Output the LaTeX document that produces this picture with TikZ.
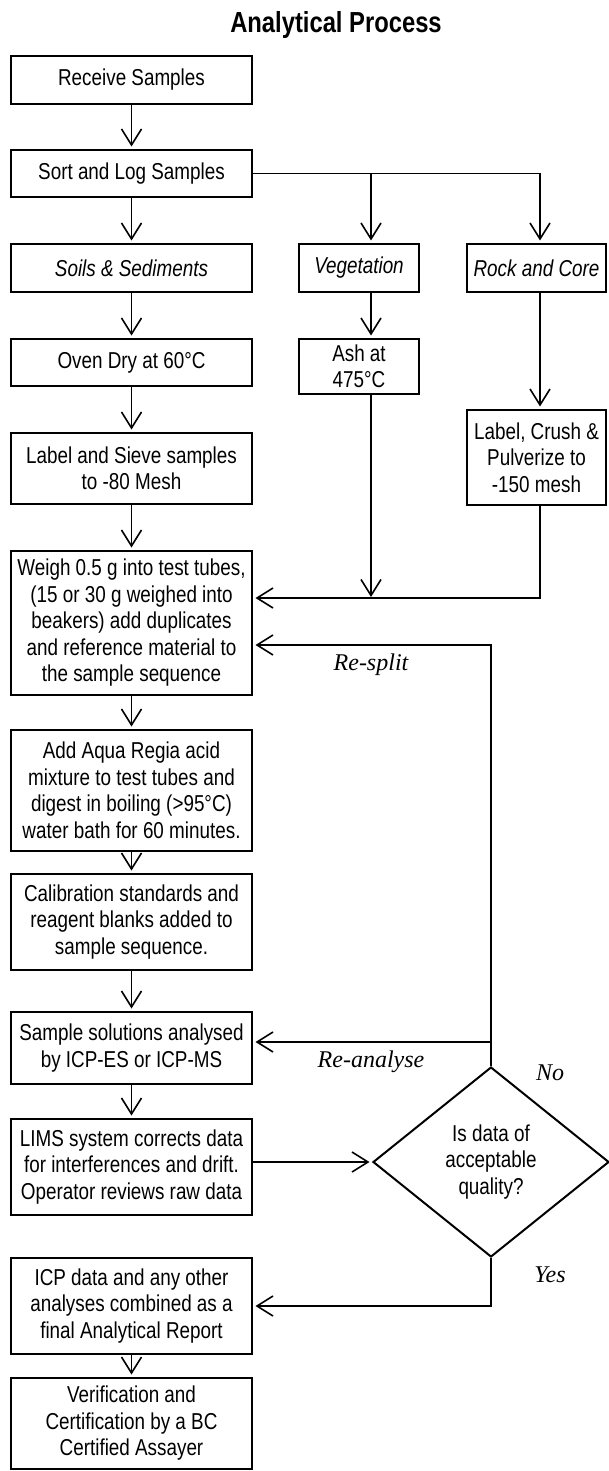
\documentclass[tikz,border=0pt]{standalone}
\usepackage{fontspec}
\setmainfont{Liberation Sans}[FakeStretch=0.82]
\newfontfamily\timesfam{Liberation Serif}
\usetikzlibrary{arrows.meta,shapes.geometric}
\begin{document}
\begin{tikzpicture}[x=1pt,y=-1pt,
  box/.style={draw, line width=2pt, align=center, inner sep=0pt,
    font=\fontsize{23}{26.5}\selectfont},
  lb/.style={box, minimum width=241pt},
  conn/.style={line width=1.6pt},
  arr/.style={conn, -{Straight Barb[length=16pt,width=20pt]}, shorten >=2.5pt},
  lbl/.style={font=\timesfam\itshape\fontsize{24}{28}\selectfont, anchor=base},
  dia/.style={draw, diamond, line width=2pt, inner sep=0pt, align=center,
    minimum width=236pt, minimum height=190pt, aspect=1.242,
    font=\fontsize{23}{26.5}\selectfont}
]
\useasboundingbox (0,0) rectangle (608,1471);

\node[font=\bfseries\fontsize{29}{34}\selectfont, anchor=base] (title) at (336,33) {Analytical Process};

% left column
\node[lb, minimum height=48pt] (rec) at (131.5,80) {Receive Samples};
\node[lb, minimum height=47pt] (sort) at (131.5,173.5) {Sort and Log Samples};
\node[lb, minimum height=48pt] (soils) at (131.5,268) {\itshape Soils \& Sediments};
\node[lb, minimum height=47pt] (oven) at (131.5,362.5) {Oven Dry at 60°C};
\node[lb, minimum height=71pt] (sieve) at (131.5,468.5) {Label and Sieve samples\\to -80 Mesh};
\node[lb, minimum height=144pt] (weigh) at (131.5,623) {Weigh 0.5 g into test tubes,\\(15 or 30 g weighed into\\beakers) add duplicates\\and reference material to\\the sample sequence};
\node[lb, minimum height=121pt] (aqua) at (131.5,790.5) {Add Aqua Regia acid\\mixture to test tubes and\\digest in boiling (>95°C)\\water bath for 60 minutes.};
\node[lb, minimum height=96pt] (calib) at (131.5,922) {Calibration standards and\\reagent blanks added to\\sample sequence.};
\node[lb, minimum height=72pt] (sample) at (131.5,1048) {Sample solutions analysed\\by ICP-ES or ICP-MS};
\node[lb, minimum height=96pt] (lims) at (131.5,1167) {LIMS system corrects data\\for interferences and drift.\\Operator reviews raw data};
\node[lb, minimum height=96pt] (icp) at (131.5,1306) {ICP data and any other\\analyses combined as a\\final Analytical Report};
\node[lb, minimum height=91pt] (verif) at (131.5,1423.5) {Verification and\\Certification by a BC\\Certified Assayer};

% middle and right columns
\node[box, minimum width=120pt, minimum height=48pt] (veg) at (359,268) {\itshape Vegetation};
\node[box, minimum width=120pt, minimum height=55pt] (ash) at (359,366.5) {Ash at\\475°C};
\node[box, minimum width=139pt, minimum height=48pt] (rock) at (536.5,268) {\itshape Rock and Core};
\node[box, minimum width=139pt, minimum height=95pt] (crush) at (536.5,457.5) {Label, Crush \&\\Pulverize to\\-150 mesh};

% decision
\node[dia] (dec) at (491,1162) {Is data of\\acceptable\\quality?};

% left column arrows
\draw[arr] (rec.south) -- (sort.north);
\draw[arr] (sort.south) -- (soils.north);
\draw[arr] (soils.south) -- (oven.north);
\draw[arr] (oven.south) -- (sieve.north);
\draw[arr] (sieve.south) -- (weigh.north);
\draw[arr] (weigh.south) -- (aqua.north);
\draw[arr] (aqua.south) -- (calib.north);
\draw[arr] (calib.south) -- (sample.north);
\draw[arr] (sample.south) -- (lims.north);
\draw[arr] (icp.south) -- (verif.north);

% branches
\coordinate (jv) at (371,173.5);
\coordinate (jr) at (540,173.5);
\coordinate (m) at (540,598);
\draw[conn] (sort.east) -- (jr);
\draw[arr] (jr) -- (jr |- rock.north);
\draw[arr] (jv) -- (jv |- veg.north);
\draw[arr] (jv |- veg.south) -- (jv |- ash.north);
\draw[arr] (jr |- rock.south) -- (jr |- crush.north);
\draw[arr] (jr |- crush.south) -- (m) -- (m -| weigh.east);
\draw[arr, shorten >=1pt] (jv |- ash.south) -- (jv |- m);

% feedback loops
\coordinate (rs) at (491,645);
\coordinate (ra) at (491,1042);
\coordinate (ys) at (491,1306);
\draw[arr] (dec.north) -- (rs) -- (rs -| weigh.east);
\draw[arr] (ra) -- (ra -| sample.east);
\draw[arr] (dec.west -| lims.east) -- (dec.west);
\draw[arr] (dec.south) -- (ys) -- (ys -| icp.east);

% labels
\node[lbl] (lrs) at (371,670) {Re-split};
\node[lbl] (lra) at (371,1067) {Re-analyse};
\node[lbl] (lno) at (550,1080) {No};
\node[lbl] (lyes) at (550,1282) {Yes};
\end{tikzpicture}
\end{document}
